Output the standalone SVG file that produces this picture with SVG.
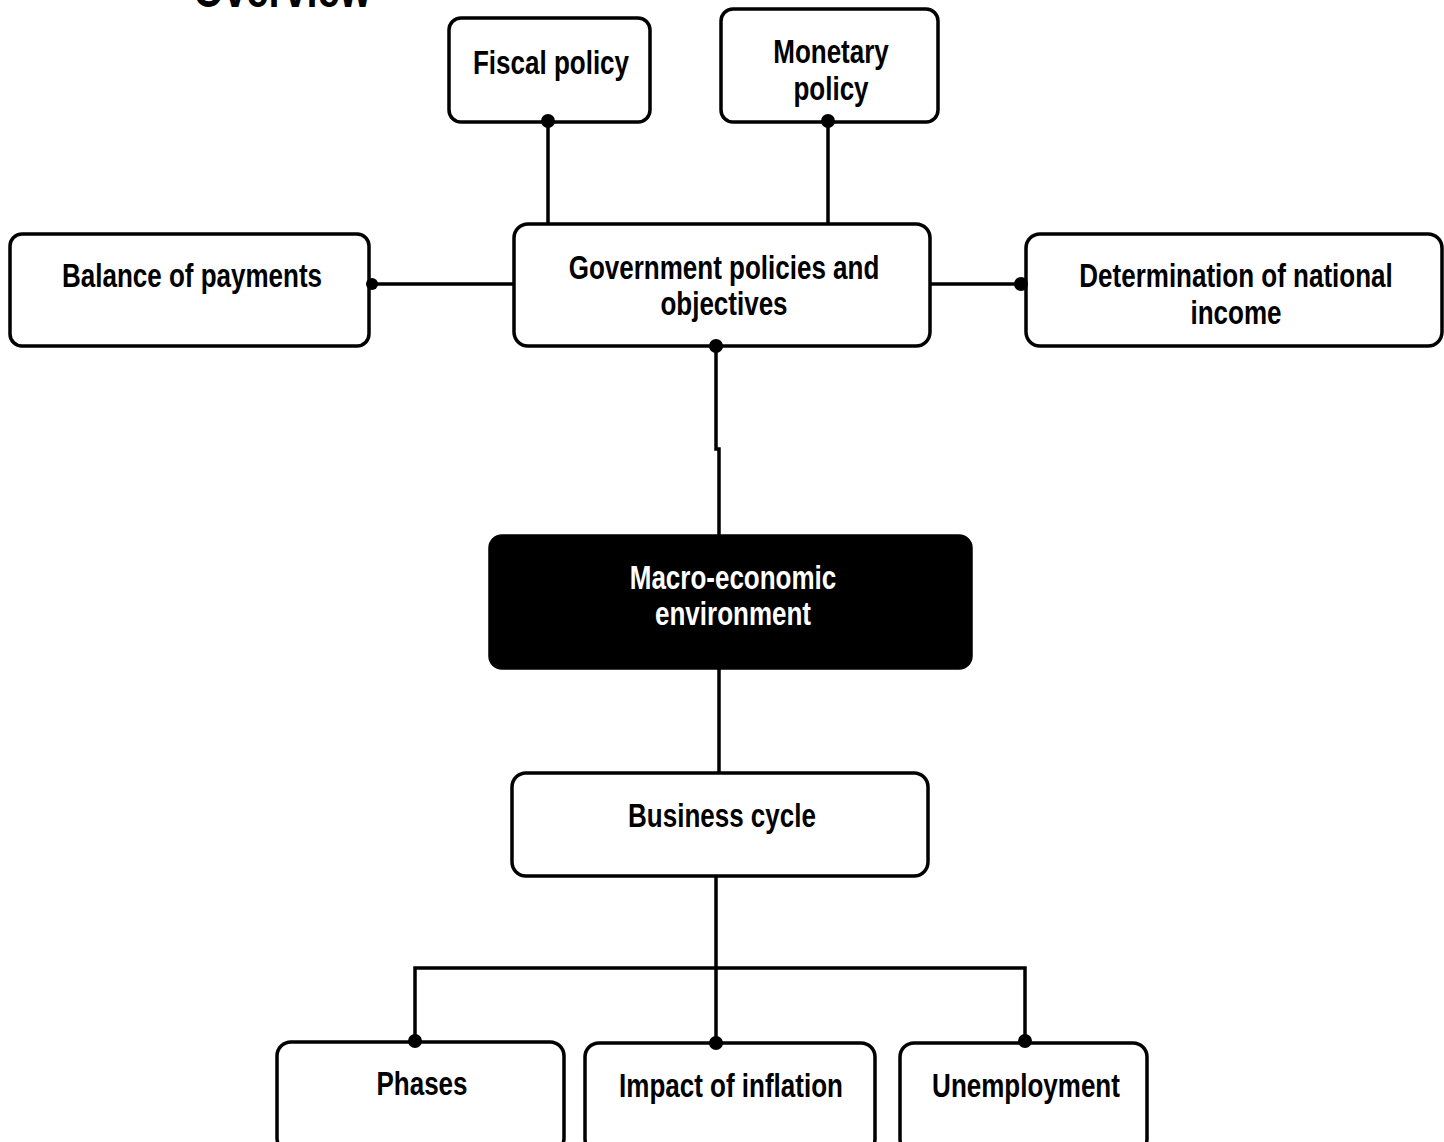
<svg xmlns="http://www.w3.org/2000/svg" width="1444" height="1142" viewBox="0 0 1444 1142">
<style>
.box{fill:#fff;stroke:#000;stroke-width:3.5}
.dark{fill:#000;stroke:#000;stroke-width:3.5}
.t{font-family:"Liberation Sans",Arial,sans-serif;font-weight:bold;font-size:26px;text-anchor:middle;fill:#000}
.w{fill:#fff}
.ln{stroke:#000;stroke-width:3.5;fill:none}
</style>
<rect width="1444" height="1142" fill="#fff"/>
<text transform="translate(193,7) scale(1,1.25)" style="font-family:'Liberation Sans',Arial,sans-serif;font-weight:bold;font-size:40px">Overview</text>
<g id="connectors">
<line class="ln" x1="548" y1="121" x2="548" y2="224"/>
<line class="ln" x1="828" y1="121" x2="828" y2="224"/>
<line class="ln" x1="370" y1="284" x2="514" y2="284"/>
<line class="ln" x1="930" y1="284" x2="1022" y2="284"/>
<polyline class="ln" points="716,346 716,449 719,449 719,536"/>
<line class="ln" x1="719" y1="668" x2="719" y2="773"/>
<line class="ln" x1="716" y1="876" x2="716" y2="1043"/>
<polyline class="ln" points="415,1042 415,968 1025,968 1025,1042"/>
</g>
<g id="fiscal"><rect class="box" x="449" y="18" width="201" height="104" rx="12"/><text class="t" transform="translate(551,74) scale(1,1.25)">Fiscal policy</text></g>
<g id="monetary"><rect class="box" x="721" y="9" width="217" height="113" rx="12"/><text class="t" transform="translate(831,63) scale(1,1.25)">Monetary</text><text class="t" transform="translate(831,100) scale(1,1.25)">policy</text></g>
<g id="balance"><rect class="box" x="10" y="234" width="359" height="112" rx="12"/><text class="t" transform="translate(192,287) scale(1,1.25)">Balance of payments</text></g>
<g id="government"><rect class="box" x="514" y="224" width="416" height="122" rx="14"/><text class="t" transform="translate(724,279) scale(1,1.25)">Government policies and</text><text class="t" transform="translate(724,315) scale(1,1.25)">objectives</text></g>
<g id="determination"><rect class="box" x="1026" y="234" width="416" height="112" rx="14"/><text class="t" transform="translate(1236,287) scale(1,1.25)">Determination of national</text><text class="t" transform="translate(1236,324) scale(1,1.25)">income</text></g>
<g id="macro"><rect class="dark" x="490" y="536" width="481" height="132" rx="12"/><text class="t w" transform="translate(733,589) scale(1,1.25)">Macro-economic</text><text class="t w" transform="translate(733,625) scale(1,1.25)">environment</text></g>
<g id="business"><rect class="box" x="512" y="773" width="416" height="103" rx="14"/><text class="t" transform="translate(722,827) scale(1,1.25)">Business cycle</text></g>
<g id="phases"><rect class="box" x="277" y="1042" width="287" height="110" rx="14"/><text class="t" transform="translate(422,1095) scale(1,1.25)">Phases</text></g>
<g id="impact"><rect class="box" x="585" y="1043" width="290" height="110" rx="14"/><text class="t" transform="translate(731,1097) scale(1,1.25)">Impact of inflation</text></g>
<g id="unemployment"><rect class="box" x="900" y="1043" width="247" height="110" rx="14"/><text class="t" transform="translate(1026,1097) scale(1,1.25)">Unemployment</text></g>
<g id="dots">
<circle cx="548" cy="121" r="7"/>
<circle cx="828" cy="121" r="7"/>
<circle cx="372" cy="284" r="6"/>
<circle cx="1021" cy="284" r="7"/>
<circle cx="716" cy="346" r="7"/>
<circle cx="415" cy="1041" r="7"/>
<circle cx="716" cy="1043" r="7"/>
<circle cx="1025" cy="1041" r="7"/>
</g>
</svg>
